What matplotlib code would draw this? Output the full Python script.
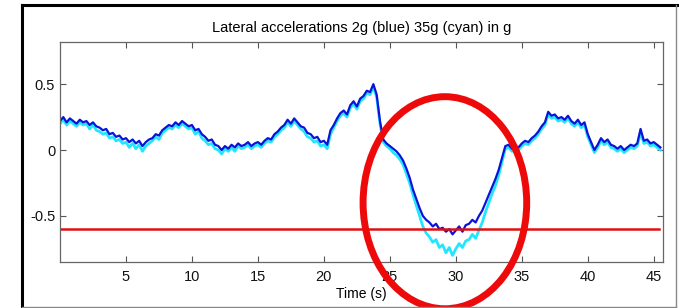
import numpy as np
import matplotlib
matplotlib.use("Agg")
import matplotlib.pyplot as plt
from matplotlib.patches import Ellipse
from matplotlib.lines import Line2D

plt.rcParams['font.family'] = ['Liberation Sans', 'DejaVu Sans']

# sample step 0.25 s, from 0 to 45.5 s
time_s = np.arange(183) * 0.25

acc_2g_blue = [
    0.22, 0.25, 0.21, 0.24,  0.22, 0.20, 0.23, 0.21,  0.22, 0.19, 0.21, 0.18,
    0.17, 0.15, 0.16, 0.12,  0.13, 0.10, 0.11, 0.08,  0.09, 0.06, 0.08, 0.05,
    0.07, 0.03, 0.06, 0.08,  0.09, 0.12, 0.11, 0.15,  0.17, 0.19, 0.18, 0.21,
    0.19, 0.22, 0.20, 0.18,  0.19, 0.15, 0.16, 0.12,  0.10, 0.07, 0.08, 0.04,
    0.03, 0.00, 0.03, 0.01,  0.04, 0.02, 0.05, 0.03,  0.04, 0.06, 0.03, 0.05,
    0.06, 0.04, 0.07, 0.09,  0.08, 0.12, 0.14, 0.17,  0.19, 0.23, 0.20, 0.24,
    0.21, 0.18, 0.17, 0.13,  0.12, 0.09, 0.10, 0.06,  0.07, 0.04, 0.15, 0.19,
    0.24, 0.28, 0.30, 0.27,  0.34, 0.37, 0.33, 0.39,  0.41, 0.45, 0.44, 0.50,
    0.42, 0.22, 0.08, 0.05,  0.03, 0.01, -0.01, -0.04, -0.08, -0.14, -0.21, -0.30,
    -0.37, -0.44, -0.50, -0.53, -0.55, -0.58, -0.56, -0.60, -0.59, -0.62, -0.60, -0.64,
    -0.61, -0.58, -0.62, -0.57, -0.56, -0.53, -0.55, -0.50, -0.46, -0.40, -0.34, -0.28,
    -0.22, -0.15, -0.06, 0.03,  0.04, 0.01, 0.03, 0.02,  0.05, 0.07, 0.06, 0.09,
    0.11, 0.14, 0.18, 0.21,  0.29, 0.26, 0.27, 0.24,  0.25, 0.23, 0.26, 0.22,
    0.20, 0.23, 0.19, 0.21,  0.12, 0.06, 0.00, 0.04,  0.09, 0.06, 0.08, 0.04,
    0.03, 0.01, 0.03, 0.00,  0.02, 0.04, 0.03, 0.05,  0.16, 0.07, 0.08, 0.05,
    0.06, 0.04, 0.02,
]

acc_35g_cyan = [
    0.20, 0.23, 0.19, 0.22,  0.20, 0.18, 0.21, 0.19,  0.20, 0.16, 0.19, 0.15,
    0.14, 0.12, 0.13, 0.09,  0.10, 0.07, 0.08, 0.05,  0.06, 0.02, 0.05, 0.01,
    0.04, -0.01, 0.03, 0.05, 0.07, 0.10, 0.08, 0.13,  0.15, 0.17, 0.16, 0.19,
    0.17, 0.20, 0.18, 0.16,  0.17, 0.12, 0.14, 0.09,  0.07, 0.04, 0.05, 0.01,
    0.00, -0.03, 0.01, -0.01, 0.02, -0.01, 0.03, 0.01, 0.02, 0.04, 0.01, 0.03,
    0.04, 0.02, 0.05, 0.07,  0.06, 0.10, 0.12, 0.15,  0.17, 0.21, 0.18, 0.22,
    0.19, 0.16, 0.14, 0.10,  0.09, 0.06, 0.07, 0.03,  0.04, 0.01, 0.12, 0.17,
    0.22, 0.26, 0.28, 0.25,  0.32, 0.35, 0.31, 0.37,  0.39, 0.43, 0.42, 0.48,
    0.40, 0.20, 0.06, 0.03,  0.01, -0.02, -0.04, -0.07, -0.11, -0.18, -0.25, -0.34,
    -0.42, -0.50, -0.58, -0.63, -0.66, -0.70, -0.68, -0.74, -0.72, -0.78, -0.74, -0.80,
    -0.75, -0.71, -0.74, -0.69, -0.68, -0.64, -0.67, -0.61, -0.55, -0.47, -0.40, -0.33,
    -0.27, -0.19, -0.09, 0.01, 0.02, -0.01, 0.01, 0.00,  0.03, 0.05, 0.04, 0.07,
    0.09, 0.12, 0.16, 0.19,  0.27, 0.24, 0.25, 0.22,  0.23, 0.21, 0.24, 0.20,
    0.18, 0.21, 0.17, 0.19,  0.10, 0.04, -0.02, 0.02, 0.07, 0.04, 0.06, 0.02,
    0.01, -0.01, 0.01, -0.02, 0.00, 0.02, 0.01, 0.03,  0.13, 0.05, 0.06, 0.03,
    0.04, 0.02, 0.00,
]

threshold = -0.6
x_ticks = [5, 10, 15, 20, 25, 30, 35, 40, 45]
y_ticks = [-0.5, 0, 0.5]
y_tick_labels = ['-0.5', '0', '0.5']
title = 'Lateral accelerations 2g (blue) 35g (cyan) in g'
xlabel = 'Time (s)'

fig = plt.figure(figsize=(6.79, 3.08), dpi=100)
ax = fig.add_axes([60/679, 1-262/308, 603/679, 220/308])

ax.plot(time_s, acc_35g_cyan, color='#22E6FF', lw=2.0)
ax.plot(time_s, acc_2g_blue, color='#0A14D8', lw=1.6)
ax.plot([0, 45.4], [threshold, threshold], color='#E01010', lw=1.8)

ax.set_xlim(0, 45.7)
ax.set_ylim(-0.85, 0.82)
ax.set_xticks(x_ticks)
ax.set_yticks(y_ticks)
ax.set_yticklabels(y_tick_labels)
ax.tick_params(direction='in', top=True, right=True, length=4, width=0.8,
               colors='#555555', labelcolor='#111111', labelsize=10.5)
ax.tick_params(axis='x', pad=6)
for s in ax.spines.values():
    s.set_color('#666666')
    s.set_linewidth(0.9)
ax.set_title(title, fontsize=10.5, pad=7)
ax.set_xlabel(xlabel, fontsize=10, labelpad=2)

ell = Ellipse((29.17, -0.40), 12.4, 1.61, fill=False, edgecolor='#EE0A0A',
              lw=5.0, clip_on=False, zorder=5)
ax.add_patch(ell)

# outer frame
fig.add_artist(Line2D([22/679, 22/679], [0, 1-5/308], transform=fig.transFigure, color='black', lw=2.2))
fig.add_artist(Line2D([22/679, 677/679], [1-5/308, 1-5/308], transform=fig.transFigure, color='black', lw=2.2))
fig.add_artist(Line2D([676/679, 676/679], [1/308, 1-5/308], transform=fig.transFigure, color='#888888', lw=1.0))
fig.add_artist(Line2D([22/679, 676/679], [1.5/308, 1.5/308], transform=fig.transFigure, color='#888888', lw=1.0))

fig.savefig('out.png', dpi=100)
